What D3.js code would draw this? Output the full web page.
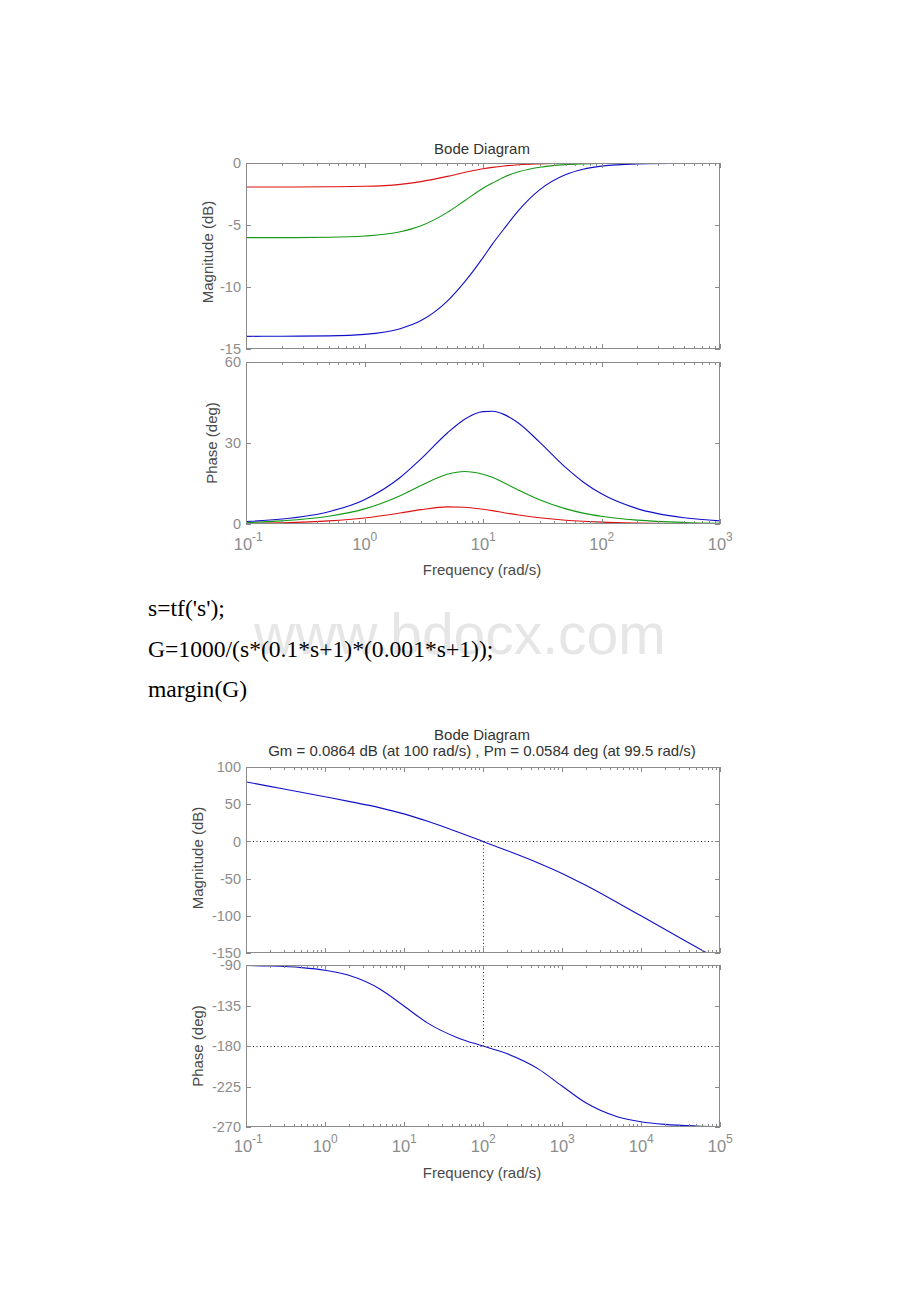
<!DOCTYPE html>
<html><head><meta charset="utf-8">
<script src="https://cdn.jsdelivr.net/npm/d3@7/dist/d3.min.js"></script>
<style>
html,body{margin:0;padding:0;background:#fff;}
svg{display:block;}
</style></head>
<body>
<script>
// ---------- Data ----------
const freqTop = [0.1,0.2,0.5,1,2,3,5,7,10,12,15,20,30,50,70,100,200,500,1000];
const magRed   = [-1.94,-1.94,-1.92,-1.88,-1.72,-1.50,-1.08,-0.76,-0.46,-0.35,-0.24,-0.14,-0.07,-0.02,-0.01,-0.01,0,0,0];
const magGreen = [-6.02,-6.02,-5.99,-5.89,-5.55,-5.06,-3.98,-3.04,-2.04,-1.62,-1.14,-0.71,-0.34,-0.13,-0.07,-0.03,-0.01,0,0];
const magBlue  = [-13.98,-13.97,-13.94,-13.82,-13.36,-12.71,-11.14,-9.59,-7.63,-6.54,-5.32,-3.82,-2.17,-0.93,-0.50,-0.25,-0.07,-0.01,0];
const phRed    = [0.23,0.46,1.14,2.22,4.06,5.32,6.34,6.22,5.44,4.95,4.19,3.32,2.31,1.41,1.02,0.71,0.36,0.14,0.07];
const phGreen  = [0.57,1.15,2.85,5.60,10.49,14.27,18.43,19.47,18.43,17.30,15.26,12.53,8.97,5.60,4.04,2.85,1.43,0.57,0.29];
const phBlue   = [0.92,1.83,4.57,9.02,17.23,24.12,33.69,38.82,41.63,41.74,40.60,37.30,30.34,20.85,15.57,11.17,5.69,2.29,1.15];
const seriesColors = ["#dd1111","#129a12","#1010c8"];

const freqBot  = [0.1,0.2,0.5,1,2,5,10,20,50,100,200,500,1000,2000,5000,10000,20000,50000,100000];
const magBot   = [80.0,73.97,66.01,59.96,53.81,45.05,36.99,26.99,11.86,-0.09,-12.22,-28.93,-43.01,-59.03,-82.11,-100.04,-118.06,-141.94,-160.0];
const phBot    = [-90.57,-91.15,-92.89,-95.77,-101.42,-116.85,-135.57,-154.58,-171.55,-180.0,-188.45,-205.42,-224.43,-243.15,-258.58,-264.23,-267.11,-268.84,-269.43];
const gmFreq = 100, pmFreq = 99.5;

const topMagTicks = [0,-5,-10,-15];
const topPhTicks  = [0,30,60];
const botMagTicks = [100,50,0,-50,-100,-150];
const botPhTicks  = [-90,-135,-180,-225,-270];
const topDecades  = [-1,0,1,2,3];
const botDecades  = [-1,0,1,2,3,4,5];

const codeLines = ["s=tf('s');","G=1000/(s*(0.1*s+1)*(0.001*s+1));","margin(G)"];
const titleText = "Bode Diagram";
const marginText = "Gm = 0.0864 dB (at 100 rad/s) ,  Pm = 0.0584 deg (at 99.5 rad/s)";

// ---------- Drawing ----------
const W = 920, H = 1302;
const svg = d3.select("body").append("svg").attr("width", W).attr("height", H);
const SANS = "'Liberation Sans', Arial, sans-serif";
const SERIF = "'Liberation Serif', 'Times New Roman', serif";
const boxColor = "#8a8a8a", tickLabelColor = "#8c8c8c", labelColor = "#4a4a4a", titleColor = "#333";
let clipId = 0;

function majorMinor(dom) {
  const a = Math.round(Math.log10(dom[0])), b = Math.round(Math.log10(dom[1]));
  const out = [];
  for (let e = a; e <= b; e++) {
    for (let m = 1; m <= 9; m++) {
      const v = m * Math.pow(10, e);
      if (v <= dom[1] * 1.0000001) out.push(v);
    }
  }
  return out;
}

function panel(x, y, yDom, yTicks, xDom) {
  const xs = d3.scaleLog().domain(xDom).range(x);
  const ys = d3.scaleLinear().domain(yDom).range([y[1], y[0]]);
  const g = svg.append("g");
  const id = "clip" + (clipId++);
  g.append("clipPath").attr("id", id).append("rect")
    .attr("x", x[0]).attr("y", y[0]).attr("width", x[1]-x[0]).attr("height", y[1]-y[0]);
  const plot = g.append("g").attr("clip-path", `url(#${id})`);
  const ticks = g.append("g");
  majorMinor(xDom).forEach(v => {
    const isMajor = Math.abs(Math.log10(v) - Math.round(Math.log10(v))) < 1e-9;
    const len = isMajor ? 5 : 3;
    const px = Math.round(xs(v)) + 0.5;
    ticks.append("line").attr("x1", px).attr("x2", px).attr("y1", y[1]).attr("y2", y[1]-len);
    ticks.append("line").attr("x1", px).attr("x2", px).attr("y1", y[0]).attr("y2", y[0]+len);
  });
  yTicks.forEach(v => {
    const py = Math.round(ys(v)) + 0.5;
    ticks.append("line").attr("x1", x[0]).attr("x2", x[0]+5).attr("y1", py).attr("y2", py);
    ticks.append("line").attr("x1", x[1]).attr("x2", x[1]-5).attr("y1", py).attr("y2", py);
  });
  ticks.selectAll("line").attr("stroke", boxColor).attr("stroke-width", 1);
  const ay = d3.axisLeft(ys).tickValues(yTicks).tickFormat(d => String(d)).tickSize(0).tickPadding(5);
  const yg = g.append("g").attr("transform", `translate(${x[0]},0)`).call(ay);
  yg.select(".domain").remove();
  yg.selectAll("text").attr("font-family", SANS).attr("font-size", 14.5).attr("fill", tickLabelColor);
  return {xs, ys, g, plot, x, y};
}

function drawBox(p) {
  p.g.append("rect").attr("x", p.x[0]+0.5).attr("y", p.y[0]+0.5)
    .attr("width", p.x[1]-p.x[0]-1).attr("height", p.y[1]-p.y[0]-1)
    .attr("fill", "none").attr("stroke", boxColor).attr("stroke-width", 1);
}

function drawLine(p, xsData, ysData, color) {
  const line = d3.line().x((d,i) => p.xs(xsData[i])).y(d => p.ys(d)).curve(d3.curveMonotoneX);
  p.plot.append("path").datum(ysData).attr("d", line)
    .attr("fill", "none").attr("stroke", color).attr("stroke-width", 1.1);
}

function xLabels(p, decades, yBase) {
  const g = svg.append("g").attr("font-family", SANS).attr("fill", tickLabelColor);
  decades.forEach(e => {
    const cx = p.xs(Math.pow(10, e));
    g.append("text").attr("x", cx - 3).attr("y", yBase).attr("text-anchor", "middle")
      .attr("font-size", 16.5).text("10");
    g.append("text").attr("x", cx + 6).attr("y", yBase - 9).attr("text-anchor", "start")
      .attr("font-size", 12).text(String(e));
  });
}

function yLabel(cx, cy, txt) {
  svg.append("text").attr("transform", `translate(${cx},${cy}) rotate(-90)`)
    .attr("text-anchor", "middle").attr("dominant-baseline", "central")
    .attr("font-family", SANS).attr("font-size", 15).attr("fill", labelColor).text(txt);
}

function centerText(cx, by, txt, size, color) {
  svg.append("text").attr("x", cx).attr("y", by).attr("text-anchor", "middle")
    .attr("font-family", SANS).attr("font-size", size || 15).attr("fill", color || titleColor).text(txt);
}

// ----- Top chart -----
const XL = 246, XR = 720;
const tMag = panel([XL, XR], [163, 349], [-15, 0], topMagTicks, [0.1, 1000]);
[magRed, magGreen, magBlue].forEach((s, i) => drawLine(tMag, freqTop, s, seriesColors[i]));
drawBox(tMag);
const tPh = panel([XL, XR], [362, 524], [0, 60], topPhTicks, [0.1, 1000]);
[phRed, phGreen, phBlue].forEach((s, i) => drawLine(tPh, freqTop, s, seriesColors[i]));
drawBox(tPh);
xLabels(tPh, topDecades, 550);
centerText(482, 154, titleText);
centerText(482, 575, "Frequency  (rad/s)", 15, labelColor);
yLabel(207, 252, "Magnitude (dB)");
yLabel(211, 443, "Phase (deg)");

// ----- Code text with watermark -----
svg.append("text").attr("x", 254).attr("y", 654).attr("font-family", SANS)
  .attr("font-size", 57).attr("fill", "#e6e6e6").text("www.bdocx.com");
codeLines.forEach((t, i) => {
  svg.append("text").attr("x", 148).attr("y", 616 + i * 40.5).attr("font-family", SERIF)
    .attr("font-size", 23.6).attr("fill", "#000").text(t);
});

// ----- Bottom chart -----
const bMag = panel([XL, XR], [767, 953], [-150, 100], botMagTicks, [0.1, 100000]);
drawLine(bMag, freqBot, magBot, "#1010c8");
const dotted = sel => sel.attr("stroke", "#222").attr("stroke-dasharray", "1,2.5");
bMag.plot.append("line").attr("x1", XL).attr("x2", XR)
  .attr("y1", Math.round(bMag.ys(0)) + 0.5).attr("y2", Math.round(bMag.ys(0)) + 0.5).call(dotted);
bMag.plot.append("line").attr("x1", Math.round(bMag.xs(gmFreq)) + 0.5).attr("x2", Math.round(bMag.xs(gmFreq)) + 0.5)
  .attr("y1", bMag.ys(0)).attr("y2", 953).call(dotted);
drawBox(bMag);
const bPh = panel([XL, XR], [965, 1127], [-270, -90], botPhTicks, [0.1, 100000]);
drawLine(bPh, freqBot, phBot, "#1010c8");
bPh.plot.append("line").attr("x1", XL).attr("x2", XR)
  .attr("y1", Math.round(bPh.ys(-180)) + 0.5).attr("y2", Math.round(bPh.ys(-180)) + 0.5).call(dotted);
bPh.plot.append("line").attr("x1", Math.round(bPh.xs(pmFreq)) + 0.5).attr("x2", Math.round(bPh.xs(pmFreq)) + 0.5)
  .attr("y1", 965).attr("y2", bPh.ys(-180)).call(dotted);
drawBox(bPh);
xLabels(bPh, botDecades, 1152);
centerText(482, 740, titleText);
centerText(482, 756, marginText);
centerText(482, 1178, "Frequency  (rad/s)", 15, labelColor);
yLabel(197, 858, "Magnitude (dB)");
yLabel(197, 1046, "Phase (deg)");
</script>
</body></html>
